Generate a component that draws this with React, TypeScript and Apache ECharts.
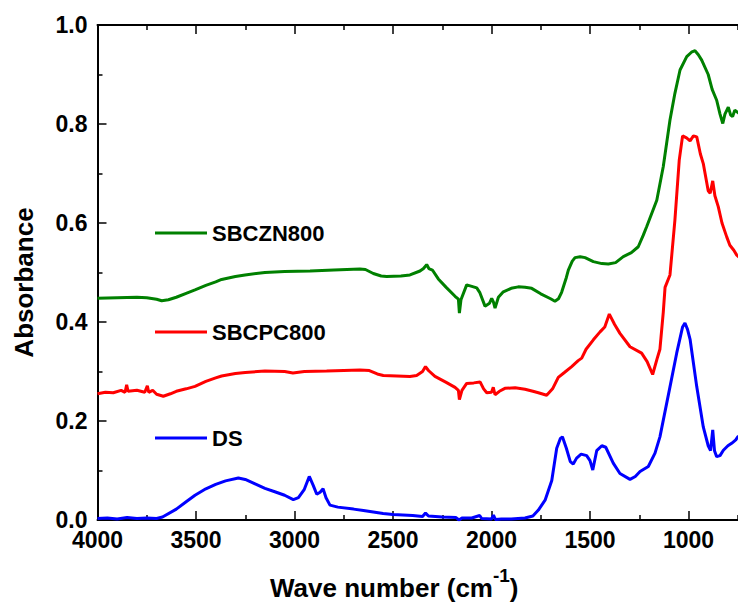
import React, { useEffect, useRef } from "react";
import * as echarts from "echarts";

const FONT = '"Liberation Sans", Arial, sans-serif';

const seriesNames = ["SBCZN800", "SBCPC800", "DS"];
const seriesColors = ["#008000", "#ff0000", "#0000ff"];

const xTicks = { min: 500, max: 4000, interval: 500 };
const yTicks = { min: 0, max: 1, interval: 0.2 };

// DS (blue)
const dsWn = [4000, 3950, 3900, 3850, 3800, 3750, 3700, 3670, 3600, 3550, 3505, 3450, 3400, 3350, 3285, 3250, 3200, 3150, 3100, 3050, 3006, 2980, 2950, 2925, 2905, 2887, 2870, 2855, 2840, 2820, 2780, 2700, 2650, 2550, 2500, 2400, 2350, 2335, 2320, 2250, 2180, 2165, 2150, 2100, 2060, 2050, 2000, 1990, 1980, 1950, 1900, 1830, 1790, 1762, 1728, 1694, 1669, 1650, 1640, 1620, 1600, 1585, 1568, 1545, 1517, 1500, 1486, 1466, 1440, 1420, 1382, 1348, 1297, 1270, 1246, 1204, 1170, 1145, 1094, 1060, 1030, 1018, 1005, 992, 958, 925, 900, 888, 877, 868, 857, 840, 823, 800, 781, 760, 750, 740];
const dsAbs = [0.003, 0.004, 0.002, 0.005, 0.003, 0.004, 0.003, 0.006, 0.022, 0.037, 0.05, 0.063, 0.072, 0.079, 0.085, 0.082, 0.073, 0.064, 0.057, 0.05, 0.041, 0.045, 0.062, 0.088, 0.07, 0.052, 0.056, 0.063, 0.045, 0.03, 0.026, 0.022, 0.019, 0.013, 0.011, 0.009, 0.007, 0.014, 0.008, 0.006, 0.005, 0.0, 0.004, 0.004, 0.009, 0.003, 0.002, 0.01, 0.001, 0.002, 0.002, 0.004, 0.008, 0.02, 0.04, 0.08, 0.145, 0.165, 0.168, 0.145, 0.118, 0.113, 0.125, 0.133, 0.13, 0.12, 0.101, 0.14, 0.15, 0.147, 0.115, 0.094, 0.082, 0.088, 0.098, 0.108, 0.135, 0.168, 0.269, 0.337, 0.39, 0.398, 0.385, 0.365, 0.269, 0.188, 0.15, 0.14, 0.182, 0.14, 0.128, 0.13, 0.141, 0.15, 0.155, 0.162, 0.168, 0.17];

// SBCPC800 (red)
const pcWn = [4000, 3960, 3920, 3880, 3860, 3852, 3845, 3800, 3760, 3747, 3740, 3720, 3700, 3666, 3630, 3600, 3550, 3505, 3450, 3400, 3370, 3300, 3250, 3150, 3050, 3008, 2950, 2837, 2750, 2668, 2620, 2580, 2549, 2480, 2414, 2380, 2350, 2335, 2320, 2287, 2230, 2185, 2168, 2163, 2150, 2126, 2090, 2058, 2040, 2024, 2000, 1991, 1982, 1960, 1932, 1880, 1830, 1790, 1762, 1720, 1690, 1661, 1630, 1593, 1560, 1542, 1520, 1483, 1449, 1425, 1402, 1375, 1348, 1297, 1238, 1210, 1182, 1160, 1145, 1128, 1119, 1094, 1069, 1047, 1030, 1010, 992, 975, 958, 940, 925, 900, 890, 877, 866, 849, 830, 806, 790, 770, 755, 740];
const pcAbs = [0.255, 0.258, 0.257, 0.262, 0.258, 0.273, 0.26, 0.262, 0.258, 0.271, 0.258, 0.262, 0.254, 0.25, 0.255, 0.26, 0.265, 0.27, 0.28, 0.287, 0.291, 0.296, 0.298, 0.301, 0.3, 0.297, 0.3, 0.301, 0.302, 0.303, 0.302, 0.295, 0.292, 0.291, 0.29, 0.292, 0.3, 0.31, 0.302, 0.29, 0.278, 0.268, 0.262, 0.243, 0.262, 0.276, 0.277, 0.279, 0.265, 0.257, 0.258, 0.268, 0.253, 0.26, 0.266, 0.267, 0.264, 0.26, 0.257, 0.252, 0.265, 0.288, 0.298, 0.31, 0.322, 0.327, 0.345, 0.364, 0.38, 0.39, 0.416, 0.395, 0.377, 0.35, 0.337, 0.32, 0.294, 0.325, 0.345, 0.42, 0.47, 0.495, 0.606, 0.727, 0.776, 0.772, 0.766, 0.776, 0.774, 0.74, 0.72, 0.665, 0.66, 0.685, 0.655, 0.633, 0.6, 0.572, 0.555, 0.545, 0.535, 0.53];

// SBCZN800 (green)
const znWn = [4000, 3900, 3800, 3750, 3700, 3674, 3640, 3600, 3550, 3505, 3450, 3400, 3370, 3300, 3251, 3150, 3050, 2921, 2800, 2668, 2640, 2600, 2560, 2532, 2460, 2414, 2363, 2345, 2329, 2318, 2300, 2270, 2230, 2185, 2168, 2163, 2155, 2126, 2100, 2075, 2060, 2033, 2010, 1999, 1990, 1982, 1965, 1940, 1900, 1864, 1830, 1796, 1750, 1700, 1678, 1660, 1644, 1620, 1610, 1590, 1576, 1550, 1525, 1483, 1440, 1407, 1370, 1331, 1290, 1255, 1230, 1212, 1161, 1128, 1094, 1069, 1043, 1009, 985, 967, 950, 933, 900, 880, 857, 840, 826, 815, 798, 786, 776, 765, 755, 740];
const znAbs = [0.448, 0.449, 0.45, 0.449, 0.446, 0.443, 0.445, 0.45, 0.458, 0.465, 0.474, 0.481, 0.486, 0.492, 0.495, 0.5, 0.502, 0.503, 0.505, 0.507, 0.506, 0.498, 0.493, 0.492, 0.493, 0.495, 0.503, 0.508, 0.516, 0.508, 0.505, 0.487, 0.47, 0.452, 0.446, 0.418, 0.445, 0.475, 0.472, 0.469, 0.46, 0.432, 0.438, 0.448, 0.44, 0.428, 0.45, 0.461, 0.468, 0.471, 0.47, 0.468, 0.457, 0.447, 0.442, 0.447, 0.46, 0.49, 0.505, 0.523, 0.53, 0.532, 0.53, 0.522, 0.518, 0.517, 0.52, 0.532, 0.54, 0.552, 0.575, 0.593, 0.646, 0.714, 0.808, 0.862, 0.909, 0.936, 0.945, 0.948, 0.94, 0.929, 0.9, 0.87, 0.848, 0.82, 0.801, 0.82, 0.834, 0.818, 0.815, 0.828, 0.825, 0.82];

const legendTops = [222, 321, 427];

function pairs(wn: number[], v: number[]) {
  return wn.map((w, i) => [w, v[i]]);
}

export default function App() {
  const ref = useRef<HTMLDivElement>(null);
  useEffect(() => {
    if (!ref.current) return;
    const chart = echarts.init(ref.current, null, { renderer: "svg" });
    const labelStyle = { fontSize: 23, fontWeight: "bold" as const, color: "#000", fontFamily: FONT };
    const axisLine = { show: true, onZero: false, lineStyle: { color: "#000", width: 2 } };
    const tick = { show: true, inside: true, length: 9, lineStyle: { color: "#000", width: 1.5 } };
    const minor = { show: true, splitNumber: 2, length: 5, lineStyle: { color: "#000", width: 1.5 } };
    const dataSets = [pairs(znWn, znAbs), pairs(pcWn, pcAbs), pairs(dsWn, dsAbs)];
    chart.setOption({
      animation: false,
      backgroundColor: "#fff",
      grid: { left: 97.5, top: 25, right: 13, bottom: 84, containLabel: false },
      title: {
        text: "{a|Wave number (cm}{b|-1}{a|)}",
        left: 270,
        top: 566,
        padding: 0,
        textStyle: {
          rich: {
            a: { fontSize: 26, fontWeight: "bold", fontFamily: FONT, color: "#000", lineHeight: 44 },
            b: { fontSize: 19, fontWeight: "bold", fontFamily: FONT, color: "#000", lineHeight: 20, verticalAlign: "top" },
          },
        },
      },
      legend: seriesNames.map((n, i) => ({
        data: [n],
        left: 155,
        top: legendTops[i],
        padding: 0,
        icon: "rect",
        itemWidth: 52,
        itemHeight: 3,
        selectedMode: false,
        textStyle: { fontSize: 22, fontWeight: "bold", fontFamily: FONT, color: "#000", lineHeight: 22 },
      })),
      xAxis: [
        {
          type: "value", min: xTicks.min, max: xTicks.max, interval: xTicks.interval, inverse: true, position: "bottom",
          axisLine, axisTick: tick, minorTick: minor, splitLine: { show: false },
          axisLabel: { ...labelStyle, margin: 8, formatter: (v: number) => (v < 750 ? "" : String(v)) },
        },
        {
          type: "value", min: xTicks.min, max: xTicks.max, interval: xTicks.interval, inverse: true, position: "top",
          axisLine, axisTick: tick, minorTick: minor, splitLine: { show: false },
          axisLabel: { show: false },
        },
      ],
      yAxis: [
        {
          type: "value", min: yTicks.min, max: yTicks.max, interval: yTicks.interval, position: "left",
          axisLine, axisTick: tick, minorTick: minor, splitLine: { show: false },
          axisLabel: { ...labelStyle, margin: 10, formatter: (v: number) => v.toFixed(1) },
        },
        {
          type: "value", min: yTicks.min, max: yTicks.max, interval: yTicks.interval, position: "right",
          axisLine, axisTick: tick, minorTick: minor, splitLine: { show: false },
          axisLabel: { show: false },
        },
      ],
      graphic: [
        {
          type: "text",
          x: 24,
          y: 282.5,
          rotation: Math.PI / 2,
          style: {
            text: "Absorbance",
            font: `bold 26px ${FONT}`,
            fill: "#000",
            align: "center",
            verticalAlign: "middle",
          },
        },
      ],
      series: seriesNames.map((n, i) => ({
        name: n,
        type: "line",
        xAxisIndex: 0,
        yAxisIndex: 0,
        symbol: "none",
        showSymbol: false,
        color: seriesColors[i],
        lineStyle: { color: seriesColors[i], width: 3 },
        data: dataSets[i],
      })),
    });
    return () => chart.dispose();
  }, []);
  return (
    <div style={{ position: "fixed", left: 0, top: 0, width: 738, height: 604, overflow: "hidden", background: "#fff" }}>
      <div ref={ref} style={{ width: 800, height: 604 }} />
    </div>
  );
}
